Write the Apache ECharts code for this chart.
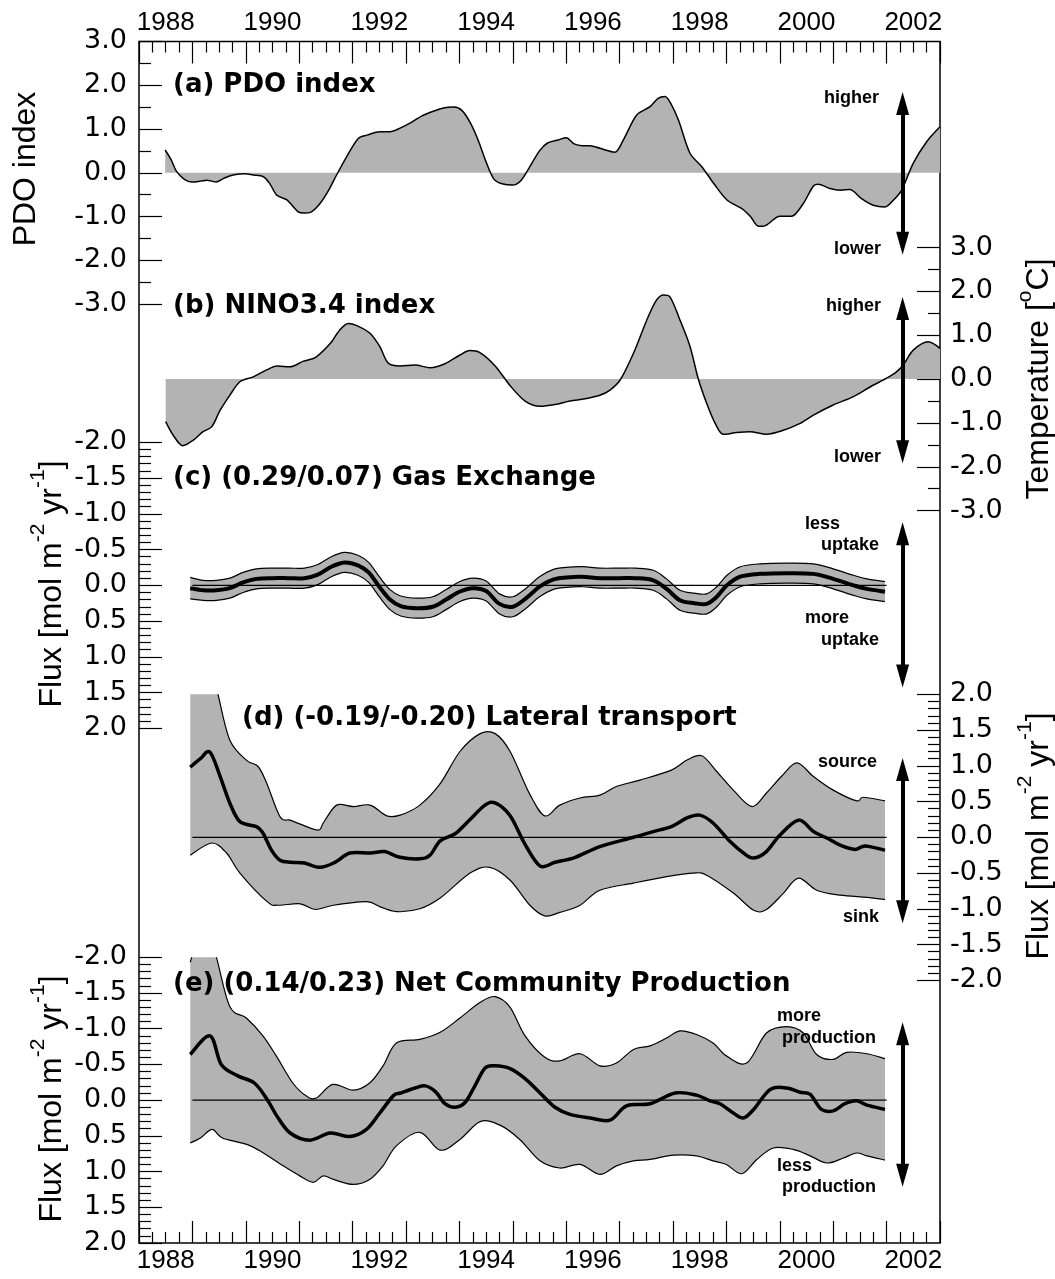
<!DOCTYPE html>
<html>
<head>
<meta charset="utf-8">
<script src="https://cdn.jsdelivr.net/npm/echarts@6/dist/echarts.min.js"></script>
<style>
  html, body { margin: 0; padding: 0; background: #fff; }
  #chart { width: 1055px; height: 1279px; }
</style>
</head>
<body>
<div id="chart"></div>
<script>
// ---- Time axis -------------------------------------------------------------
const yearLabels = ['1988', '1990', '1992', '1994', '1996', '1998', '2000', '2002'];

// ---- (a) PDO index: [decimal year, index] ---------------------------------
const pdo = [
  [1988.49, 0.52], [1988.6, 0.30], [1988.71, 0.02], [1988.85, -0.15], [1988.99, -0.21],
  [1989.15, -0.19], [1989.27, -0.17], [1989.45, -0.21], [1989.6, -0.12], [1989.76, -0.05],
  [1989.98, -0.02], [1990.14, -0.05], [1990.33, -0.09], [1990.45, -0.25], [1990.58, -0.51],
  [1990.77, -0.62], [1990.98, -0.89], [1991.1, -0.92], [1991.23, -0.89], [1991.39, -0.70],
  [1991.55, -0.40], [1991.70, -0.05], [1991.89, 0.37], [1992.11, 0.79], [1992.27, 0.86],
  [1992.51, 0.94], [1992.70, 0.94], [1992.89, 1.02], [1993.1, 1.15], [1993.3, 1.30],
  [1993.5, 1.40], [1993.7, 1.48], [1993.9, 1.50], [1994.05, 1.42], [1994.2, 1.15],
  [1994.35, 0.75], [1994.5, 0.25], [1994.65, -0.15], [1994.8, -0.25], [1995.0, -0.28],
  [1995.15, -0.18], [1995.3, 0.10], [1995.5, 0.50], [1995.65, 0.68], [1995.85, 0.75],
  [1996.0, 0.80], [1996.15, 0.66], [1996.3, 0.62], [1996.45, 0.62], [1996.63, 0.56],
  [1996.91, 0.47], [1997.07, 0.75], [1997.32, 1.32], [1997.57, 1.51], [1997.72, 1.70],
  [1997.85, 1.74], [1997.95, 1.60], [1998.10, 1.21], [1998.32, 0.44], [1998.54, 0.14],
  [1998.76, -0.24], [1999.01, -0.62], [1999.29, -0.82], [1999.45, -1.00], [1999.60, -1.22],
  [1999.69, -1.22], [2000.00, -0.99], [2000.22, -0.99], [2000.44, -0.70], [2000.63, -0.30],
  [2000.72, -0.26], [2000.94, -0.36], [2001.13, -0.40], [2001.31, -0.38], [2001.53, -0.59],
  [2001.75, -0.74], [2001.97, -0.78], [2002.13, -0.62], [2002.28, -0.40], [2002.50, 0.22],
  [2002.75, 0.71], [2003.0, 1.05]
];

// ---- (b) NINO3.4 index, degC -----------------------------------------------
const nino = [
  [1988.50, -0.97], [1988.64, -1.28], [1988.82, -1.52], [1989.02, -1.39], [1989.20, -1.20],
  [1989.36, -1.09], [1989.52, -0.71], [1989.70, -0.37], [1989.89, -0.06], [1990.14, 0.05],
  [1990.39, 0.21], [1990.58, 0.30], [1990.83, 0.28], [1991.08, 0.41], [1991.30, 0.49],
  [1991.58, 0.81], [1991.76, 1.12], [1991.92, 1.27], [1992.08, 1.22], [1992.33, 1.04],
  [1992.51, 0.74], [1992.67, 0.36], [1992.89, 0.30], [1993.17, 0.32], [1993.45, 0.26],
  [1993.73, 0.35], [1994.01, 0.55], [1994.2, 0.65], [1994.39, 0.60], [1994.67, 0.30],
  [1994.95, -0.15], [1995.23, -0.50], [1995.51, -0.62], [1995.79, -0.58], [1996.07, -0.50],
  [1996.35, -0.45], [1996.63, -0.37], [1996.82, -0.25], [1997.01, -0.02], [1997.26, 0.59],
  [1997.51, 1.35], [1997.69, 1.80], [1997.82, 1.92], [1997.94, 1.88], [1998.13, 1.35],
  [1998.32, 0.74], [1998.47, 0.02], [1998.63, -0.55], [1998.79, -1.01], [1998.94, -1.26],
  [1999.19, -1.22], [1999.44, -1.20], [1999.75, -1.26], [2000.04, -1.18], [2000.38, -1.01],
  [2000.63, -0.82], [2001.00, -0.59], [2001.38, -0.40], [2001.69, -0.18], [2002.00, 0.02],
  [2002.19, 0.17], [2002.31, 0.32], [2002.50, 0.66], [2002.78, 0.85], [2003.0, 0.70]
];

// ---- (c) Gas exchange flux, mol m-2 yr-1 (negative = less uptake) ----------
const gasYears = [
  1988.96, 1989.2, 1989.45, 1989.7, 1989.95, 1990.2, 1990.5, 1990.8, 1991.1, 1991.35,
  1991.6, 1991.85, 1992.1, 1992.3, 1992.5, 1992.7, 1992.9, 1993.2, 1993.5, 1993.75,
  1994.0, 1994.25, 1994.5, 1994.75, 1995.0, 1995.25, 1995.5, 1995.75, 1996.0, 1996.3,
  1996.63, 1997.0, 1997.3, 1997.63, 1997.88, 1998.13, 1998.4, 1998.63, 1998.82, 1999.01,
  1999.26, 1999.63, 2000.13, 2000.63, 2001.0, 2001.38, 2001.63, 2001.97
];
const gasMid = [
  0.04, 0.07, 0.07, 0.04, -0.04, -0.09, -0.10, -0.10, -0.10, -0.15,
  -0.26, -0.32, -0.28, -0.18, 0.02, 0.20, 0.29, 0.32, 0.30, 0.20,
  0.09, 0.04, 0.08, 0.26, 0.30, 0.18, 0.02, -0.08, -0.11, -0.12,
  -0.10, -0.10, -0.10, -0.07, 0.05, 0.21, 0.25, 0.26, 0.16, 0.00,
  -0.12, -0.16, -0.17, -0.16, -0.09, 0.00, 0.05, 0.09
];
const gasUpper = [
  -0.11, -0.07, -0.07, -0.10, -0.18, -0.23, -0.24, -0.24, -0.24, -0.29,
  -0.40, -0.46, -0.42, -0.32, -0.12, 0.06, 0.15, 0.18, 0.16, 0.06,
  -0.05, -0.10, -0.06, 0.12, 0.16, 0.04, -0.12, -0.22, -0.25, -0.26,
  -0.24, -0.24, -0.24, -0.21, -0.09, 0.07, 0.11, 0.12, 0.02, -0.14,
  -0.26, -0.30, -0.31, -0.30, -0.23, -0.14, -0.09, -0.05
];
const gasLower = [
  0.19, 0.21, 0.21, 0.18, 0.10, 0.05, 0.04, 0.04, 0.04, -0.01,
  -0.12, -0.18, -0.14, -0.04, 0.16, 0.34, 0.43, 0.46, 0.44, 0.34,
  0.23, 0.18, 0.22, 0.40, 0.44, 0.32, 0.16, 0.06, 0.03, 0.02,
  0.04, 0.04, 0.04, 0.07, 0.19, 0.35, 0.39, 0.40, 0.30, 0.14,
  0.02, -0.02, -0.03, -0.02, 0.05, 0.14, 0.19, 0.23
];

// ---- (d) Lateral transport flux (positive = source) ------------------------
const latMid = [
  [1988.96, 0.98], [1989.15, 1.10], [1989.33, 1.19], [1989.52, 0.85], [1989.7, 0.48],
  [1989.89, 0.22], [1990.2, 0.15], [1990.32, 0.06], [1990.48, -0.18], [1990.64, -0.32],
  [1990.85, -0.35], [1991.1, -0.36], [1991.39, -0.42], [1991.67, -0.35], [1991.95, -0.22],
  [1992.33, -0.22], [1992.6, -0.20], [1992.89, -0.28], [1993.26, -0.30], [1993.45, -0.25],
  [1993.64, -0.05], [1993.92, 0.05], [1994.2, 0.25], [1994.48, 0.45], [1994.67, 0.48],
  [1994.95, 0.30], [1995.23, -0.10], [1995.51, -0.40], [1995.79, -0.35], [1996.17, -0.28],
  [1996.63, -0.13], [1997.26, 0.00], [1997.63, 0.08], [1997.97, 0.15], [1998.26, 0.27],
  [1998.50, 0.31], [1998.75, 0.20], [1999.07, -0.06], [1999.32, -0.22], [1999.51, -0.29],
  [1999.75, -0.20], [2000.0, 0.03], [2000.35, 0.24], [2000.63, 0.08], [2000.88, -0.01],
  [2001.13, -0.11], [2001.41, -0.17], [2001.60, -0.12], [2001.97, -0.18]
];
const latUpper = [
  [1988.96, 3.0], [1989.3, 2.6], [1989.48, 2.0], [1989.70, 1.36], [1990.01, 1.08],
  [1990.23, 0.99], [1990.39, 0.76], [1990.64, 0.29], [1990.83, 0.24], [1991.07, 0.17],
  [1991.36, 0.10], [1991.45, 0.20], [1991.64, 0.41], [1991.77, 0.46], [1992.02, 0.43],
  [1992.33, 0.45], [1992.64, 0.30], [1992.89, 0.31], [1993.26, 0.45], [1993.64, 0.75],
  [1994.01, 1.20], [1994.39, 1.45], [1994.67, 1.45], [1994.95, 1.20], [1995.32, 0.60],
  [1995.60, 0.30], [1995.88, 0.45], [1996.26, 0.55], [1996.63, 0.59], [1996.94, 0.71],
  [1997.38, 0.80], [1997.97, 0.94], [1998.26, 1.08], [1998.54, 1.14], [1998.82, 0.92],
  [1999.13, 0.66], [1999.48, 0.43], [1999.75, 0.62], [2000.03, 0.85], [2000.32, 1.04],
  [2000.63, 0.85], [2001.0, 0.66], [2001.44, 0.51], [2001.56, 0.56], [2001.97, 0.51]
];
const latLower = [
  [1988.96, -0.25], [1989.36, -0.08], [1989.64, -0.22], [1989.89, -0.50], [1990.4, -0.90],
  [1990.6, -0.95], [1991.02, -0.93], [1991.30, -1.01], [1991.64, -0.95], [1992.26, -0.90],
  [1992.51, -0.97], [1992.82, -1.04], [1993.26, -1.00], [1993.64, -0.85], [1994.2, -0.50],
  [1994.57, -0.42], [1994.95, -0.60], [1995.32, -0.95], [1995.60, -1.10], [1995.88, -1.05],
  [1996.26, -0.95], [1996.63, -0.74], [1997.26, -0.64], [1997.88, -0.55], [1998.38, -0.50],
  [1998.63, -0.53], [1999.13, -0.78], [1999.51, -1.02], [1999.75, -1.01], [2000.07, -0.78],
  [2000.35, -0.57], [2000.69, -0.74], [2001.13, -0.81], [2001.63, -0.84], [2001.97, -0.87]
];

// ---- (e) Net community production flux (negative = more production) -------
const ncpMid = [
  [1988.96, -0.64], [1989.33, -0.90], [1989.54, -0.50], [1989.85, -0.34], [1990.16, -0.24],
  [1990.40, -0.01], [1990.58, 0.22], [1990.83, 0.46], [1991.2, 0.56], [1991.58, 0.46],
  [1991.95, 0.51], [1992.26, 0.41], [1992.51, 0.18], [1992.76, -0.06], [1992.9, -0.10],
  [1993.17, -0.17], [1993.36, -0.20], [1993.55, -0.12], [1993.73, 0.05], [1993.92, 0.10],
  [1994.11, 0.03], [1994.29, -0.20], [1994.48, -0.45], [1994.67, -0.48], [1994.95, -0.44],
  [1995.23, -0.30], [1995.51, -0.10], [1995.79, 0.10], [1996.07, 0.20], [1996.45, 0.25],
  [1996.82, 0.28], [1997.13, 0.08], [1997.57, 0.05], [1998.04, -0.10], [1998.44, -0.07],
  [1998.69, 0.01], [1998.88, 0.05], [1999.13, 0.18], [1999.32, 0.25], [1999.51, 0.13],
  [1999.82, -0.15], [2000.13, -0.17], [2000.38, -0.11], [2000.57, -0.08], [2000.78, 0.13],
  [2001.0, 0.15], [2001.22, 0.05], [2001.44, 0.01], [2001.63, 0.07], [2001.97, 0.13]
];
const ncpUpper = [
  [1988.96, -1.93], [1989.1, -2.25], [1989.3, -2.30], [1989.45, -2.00], [1989.70, -1.31],
  [1990.01, -1.15], [1990.32, -0.90], [1990.57, -0.62], [1990.88, -0.24], [1991.13, -0.06],
  [1991.32, -0.03], [1991.63, -0.22], [1992.01, -0.14], [1992.32, -0.24], [1992.57, -0.48],
  [1992.82, -0.80], [1993.26, -0.85], [1993.64, -0.95], [1994.01, -1.15], [1994.39, -1.37],
  [1994.67, -1.45], [1994.95, -1.30], [1995.23, -0.90], [1995.60, -0.60], [1995.88, -0.55],
  [1996.26, -0.65], [1996.63, -0.48], [1996.94, -0.52], [1997.26, -0.71], [1997.57, -0.76],
  [1997.88, -0.87], [1998.13, -0.97], [1998.44, -0.92], [1998.75, -0.80], [1999.0, -0.62],
  [1999.38, -0.52], [1999.75, -0.94], [2000.13, -1.03], [2000.44, -0.94], [2000.69, -0.64],
  [2001.0, -0.57], [2001.25, -0.67], [2001.63, -0.65], [2001.97, -0.58]
];
const ncpLower = [
  [1988.96, 0.60], [1989.15, 0.53], [1989.37, 0.41], [1989.56, 0.53], [1990.02, 0.62],
  [1990.33, 0.74], [1990.70, 0.92], [1991.01, 1.06], [1991.26, 1.15], [1991.45, 1.06],
  [1991.64, 1.11], [1992.01, 1.18], [1992.32, 1.11], [1992.57, 0.92], [1992.82, 0.64],
  [1993.26, 0.45], [1993.64, 0.70], [1994.01, 0.55], [1994.39, 0.30], [1994.76, 0.35],
  [1995.13, 0.55], [1995.51, 0.85], [1995.88, 0.95], [1996.26, 0.90], [1996.63, 1.04],
  [1996.94, 0.92], [1997.26, 0.85], [1997.57, 0.83], [1998.01, 0.77], [1998.44, 0.78],
  [1998.75, 0.85], [1999.0, 0.90], [1999.29, 1.03], [1999.57, 0.83], [1999.88, 0.67],
  [2000.25, 0.69], [2000.57, 0.78], [2000.88, 0.88], [2001.19, 0.81], [2001.44, 0.74],
  [2001.63, 0.78], [2001.97, 0.84]
];

// Reference zero line drawn under the flux panels
const fluxZeroSpan = [[1989.0, 0], [2002.0, 0]];

const panelTitles = [
  '(a) PDO index',
  '(b) NINO3.4 index',
  '(c) (0.29/0.07) Gas Exchange',
  '(d) (-0.19/-0.20) Lateral transport',
  '(e) (0.14/0.23) Net Community Production'
];

// ---- helpers ----------------------------------------------------------------
const GRAY = '#b3b3b3';
const BLACK = '#000';
const zip = (xs, ys) => xs.map((x, i) => [x, ys[i]]);

function fmt1(v) { return Math.abs(v) < 1e-9 ? '0.0' : v.toFixed(1); }

function yearFormatter(v) {
  const h = Math.round(v * 2);
  if (h % 2 !== 1) return '';
  const y = String((h - 1) / 2);
  return yearLabels.indexOf(y) >= 0 ? y : '';
}

// Smooth curve through pixel points (Catmull-Rom converted to cubic Bezier)
function curveSegments(pts) {
  let d = '';
  for (let i = 0; i < pts.length - 1; i++) {
    const p0 = pts[i - 1] || pts[i], p1 = pts[i], p2 = pts[i + 1], p3 = pts[i + 2] || pts[i + 1];
    const lo = Math.min(p1[0], p2[0]), hi = Math.max(p1[0], p2[0]);
    const clampX = x => Math.min(hi, Math.max(lo, x));
    const c1 = [clampX(p1[0] + (p2[0] - p0[0]) / 6), p1[1] + (p2[1] - p0[1]) / 6];
    const c2 = [clampX(p2[0] - (p3[0] - p1[0]) / 6), p2[1] - (p3[1] - p1[1]) / 6];
    d += ' C' + c1[0] + ',' + c1[1] + ' ' + c2[0] + ',' + c2[1] + ' ' + p2[0] + ',' + p2[1];
  }
  return d;
}
function openPath(pts) { return 'M' + pts[0][0] + ',' + pts[0][1] + curveSegments(pts); }

function bandRenderer(upper, lower) {
  return function (params, api) {
    const up = upper.map(p => api.coord(p));
    const lo = lower.map(p => api.coord(p)).reverse();
    const fill = openPath(up) + ' L' + lo[0][0] + ',' + lo[0][1] + curveSegments(lo) + ' Z';
    return {
      type: 'group',
      children: [
        { type: 'path', shape: { pathData: fill }, style: { fill: GRAY, stroke: null } },
        { type: 'path', shape: { pathData: openPath(up) }, style: { fill: null, stroke: BLACK, lineWidth: 1.2 } },
        { type: 'path', shape: { pathData: openPath(lo) }, style: { fill: null, stroke: BLACK, lineWidth: 1.2 } }
      ]
    };
  };
}
function lineRenderer(points, width) {
  return function (params, api) {
    const pts = points.map(p => api.coord(p));
    return { type: 'path', shape: { pathData: openPath(pts) }, style: { fill: null, stroke: BLACK, lineWidth: width, lineJoin: 'round' } };
  };
}

// Double-headed arrow drawn in data units of a panel
function arrow(x, yTop, yBottom) {
  return {
    silent: true,
    animation: false,
    symbol: ['triangle', 'triangle'],
    symbolSize: [13, 23],
    label: { show: false },
    emphasis: { disabled: true },
    lineStyle: { color: BLACK, width: 4, type: 'solid' },
    data: [[{ coord: [x, yTop] }, { coord: [x, yBottom] }]]
  };
}

// ---- axes -------------------------------------------------------------------
const tickLine = { color: BLACK, width: 1.2 };
const tickFont = { fontFamily: 'DejaVu Sans', fontSize: 27, color: BLACK };
const LEFT = 139, RIGHT = 1055 - 940;

function timeTickAxis(position) {
  return {
    gridIndex: 0, type: 'value', min: 1988, max: 2003, interval: 1, position: position,
    axisLine: { show: false, onZero: false },
    axisTick: { show: true, inside: true, length: 22, lineStyle: tickLine },
    minorTick: { show: true, splitNumber: 4, length: 11, lineStyle: tickLine },
    axisLabel: { show: false }, splitLine: { show: false }, minorSplitLine: { show: false }
  };
}
function timeLabelAxis(position, margin) {
  return {
    gridIndex: 0, type: 'value', min: 1988, max: 2003, interval: 0.5, position: position,
    axisLine: { show: false, onZero: false }, axisTick: { show: false }, splitLine: { show: false },
    axisLabel: { show: true, margin: margin, formatter: yearFormatter, fontFamily: 'Liberation Sans', fontSize: 26, color: BLACK }
  };
}
function hiddenTime(gi) {
  return { gridIndex: gi, type: 'value', min: 1988, max: 2003, show: false };
}
function valueAxis(gi, position, min, max, interval, minorSplit, inverse) {
  return {
    gridIndex: gi, type: 'value', min: min, max: max, interval: interval, position: position, inverse: !!inverse,
    axisLine: { show: false, onZero: false },
    axisTick: { show: true, inside: true, length: 23, lineStyle: tickLine },
    minorTick: { show: true, splitNumber: minorSplit, length: 12, lineStyle: tickLine },
    splitLine: { show: false }, minorSplitLine: { show: false },
    axisLabel: Object.assign({ formatter: fmt1, margin: position === 'left' ? 12 : 10, padding: [6, 0, 0, 0] }, tickFont)
  };
}

// ---- text decorations --------------------------------------------------------
function label(text, x, y, opts) {
  return {
    type: 'text', x: x, y: y, z: 100, silent: true,
    style: Object.assign({
      text: text, fill: BLACK, fontFamily: 'Liberation Sans', fontWeight: 'bold', fontSize: 18,
      align: 'left', verticalAlign: 'middle', textAlign: 'left', textVerticalAlign: 'middle'
    }, opts || {})
  };
}
function titleText(text, x, y) {
  return label(text, x, y, { fontFamily: 'DejaVu Sans', fontWeight: 'bold', fontSize: 26 });
}
const nameRich = {
  n: { fontFamily: 'Liberation Sans', fontSize: 32, color: BLACK, verticalAlign: 'bottom', lineHeight: 40 },
  s: { fontFamily: 'Liberation Sans', fontSize: 21, color: BLACK, verticalAlign: 'top', lineHeight: 40 }
};
function axisName(rich, x, y) {
  return {
    type: 'text', x: x, y: y, z: 100, rotation: Math.PI / 2, silent: true,
    style: { text: rich, rich: nameRich, fill: BLACK, fontFamily: 'Liberation Sans', fontSize: 32,
      align: 'center', verticalAlign: 'middle', textAlign: 'center', textVerticalAlign: 'middle' }
  };
}
const fluxName = '{n|Flux [mol m}{s|-2}{n| yr}{s|-1}{n|]}';

const graphics = [
  titleText(panelTitles[0], 173, 85),
  titleText(panelTitles[1], 173, 306),
  titleText(panelTitles[2], 173, 478),
  titleText(panelTitles[3], 242, 718),
  titleText(panelTitles[4], 173, 984),
  axisName('{n|PDO index}', 22, 169),
  axisName('{n|Temperature [}{s|o}{n|C]}', 1035, 379),
  axisName(fluxName, 48, 584),
  axisName(fluxName, 1035, 836),
  axisName(fluxName, 48, 1099),
  label('higher', 824, 98), label('lower', 834, 249),
  label('higher', 826, 306), label('lower', 834, 457),
  label('less', 805, 524), label('uptake', 821, 545),
  label('more', 805, 618), label('uptake', 821, 640),
  label('source', 818, 762), label('sink', 843, 917),
  label('more', 777, 1016), label('production', 782, 1038),
  label('less', 777, 1166), label('production', 782, 1187)
];

const ARROW_X = 2002.3;

const option = {
  animation: false,
  backgroundColor: '#fff',
  grid: [
    { left: LEFT, right: RIGHT, top: 41.5, bottom: 1279 - 1243, show: true, borderColor: BLACK, borderWidth: 1.5, backgroundColor: 'transparent' },
    { left: LEFT, right: RIGHT, top: 41.4, height: 262.8 },
    { left: LEFT, right: RIGHT, top: 247.6, height: 263 },
    { left: LEFT, right: RIGHT, top: 442.3, height: 286 },
    { left: LEFT, right: RIGHT, top: 694.3, height: 286 },
    { left: LEFT, right: RIGHT, top: 957.3, height: 285.7 }
  ],
  xAxis: [
    timeTickAxis('top'), timeTickAxis('bottom'),
    timeLabelAxis('top', 6), timeLabelAxis('bottom', 5),
    hiddenTime(1), hiddenTime(2), hiddenTime(3), hiddenTime(4), hiddenTime(5)
  ],
  yAxis: [
    { gridIndex: 0, type: 'value', min: 0, max: 1, show: false },
    valueAxis(1, 'left', -3, 3, 1, 2, false),
    valueAxis(2, 'right', -3, 3, 1, 2, false),
    valueAxis(3, 'left', -2, 2, 0.5, 5, true),
    valueAxis(4, 'right', -2, 2, 0.5, 5, false),
    valueAxis(5, 'left', -2, 2, 0.5, 5, true)
  ],
  graphic: { elements: graphics },
  series: [
    {
      name: 'PDO', type: 'line', xAxisIndex: 4, yAxisIndex: 1, data: pdo, smooth: 0.3,
      symbol: 'none', lineStyle: { color: BLACK, width: 1.5 }, areaStyle: { color: GRAY, opacity: 1 },
      markLine: arrow(ARROW_X, 1.58, -1.61), z: 2
    },
    {
      name: 'NINO3.4', type: 'line', xAxisIndex: 5, yAxisIndex: 2, data: nino, smooth: 0.3,
      symbol: 'none', lineStyle: { color: BLACK, width: 1.5 }, areaStyle: { color: GRAY, opacity: 1 },
      markLine: arrow(ARROW_X, 1.61, -1.66), z: 2
    },
    // (c) gas exchange
    { type: 'custom', xAxisIndex: 6, yAxisIndex: 3, clip: true, z: 2, data: [[1995, 0]],
      renderItem: bandRenderer(zip(gasYears, gasUpper), zip(gasYears, gasLower)) },
    { type: 'line', xAxisIndex: 6, yAxisIndex: 3, data: fluxZeroSpan, symbol: 'none', z: 3,
      lineStyle: { color: BLACK, width: 1.3 }, markLine: arrow(ARROW_X, -0.72, 1.27) },
    { type: 'custom', xAxisIndex: 6, yAxisIndex: 3, clip: true, z: 4, data: [[1995, 0]],
      renderItem: lineRenderer(zip(gasYears, gasMid), 4) },
    // (d) lateral transport
    { type: 'custom', xAxisIndex: 7, yAxisIndex: 4, clip: true, z: 2, data: [[1995, 0]],
      renderItem: bandRenderer(latUpper, latLower) },
    { type: 'line', xAxisIndex: 7, yAxisIndex: 4, data: fluxZeroSpan, symbol: 'none', z: 3,
      lineStyle: { color: BLACK, width: 1.3 }, markLine: arrow(ARROW_X, 0.95, -1.04) },
    { type: 'custom', xAxisIndex: 7, yAxisIndex: 4, clip: true, z: 4, data: [[1995, 0]],
      renderItem: lineRenderer(latMid, 3.5) },
    // (e) net community production
    { type: 'custom', xAxisIndex: 8, yAxisIndex: 5, clip: true, z: 2, data: [[1995, 0]],
      renderItem: bandRenderer(ncpUpper, ncpLower) },
    { type: 'line', xAxisIndex: 8, yAxisIndex: 5, data: fluxZeroSpan, symbol: 'none', z: 3,
      lineStyle: { color: BLACK, width: 1.3 }, markLine: arrow(ARROW_X, -0.93, 1.05) },
    { type: 'custom', xAxisIndex: 8, yAxisIndex: 5, clip: true, z: 4, data: [[1995, 0]],
      renderItem: lineRenderer(ncpMid, 3.5) }
  ]
};

const chart = echarts.init(document.getElementById('chart'), null, { renderer: 'canvas' });
chart.setOption(option);
</script>
</body>
</html>
